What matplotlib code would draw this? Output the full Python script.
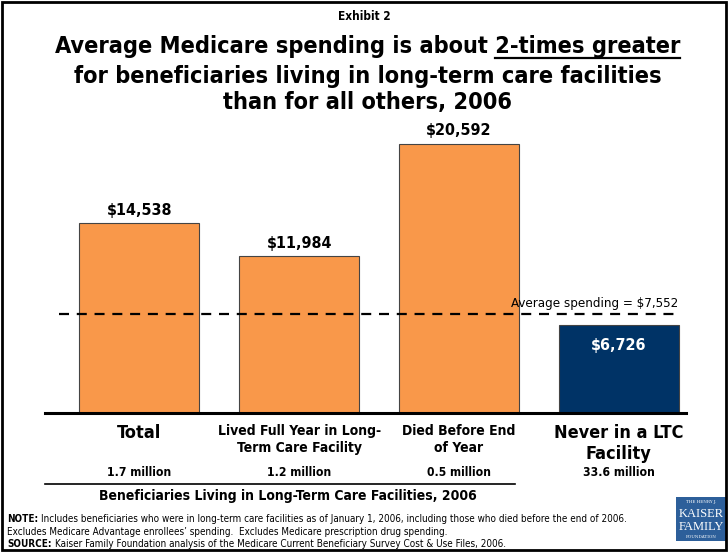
import matplotlib
matplotlib.use("Agg")
import matplotlib.pyplot as plt
from matplotlib.patches import Rectangle
from matplotlib.lines import Line2D

categories = ["Total", "Lived Full Year in Long-\nTerm Care Facility", "Died Before End\nof Year", "Never in a LTC\nFacility"]
values = [14538, 11984, 20592, 6726]
value_labels = ["$14,538", "$11,984", "$20,592", "$6,726"]
counts = ["1.7 million", "1.2 million", "0.5 million", "33.6 million"]
average = 7552
avg_label = "Average spending = $7,552"

ORANGE = "#F9984A"
NAVY = "#003366"
colors = [ORANGE, ORANGE, ORANGE, NAVY]
FONT = "DejaVu Sans"
ST = "condensed"

W, H = 728, 554
fig = plt.figure(figsize=(W / 100, H / 100), dpi=100)

def fx(px):
    return px / W

def fy(py):
    return 1 - py / H

def T(xx, yy, s, **kw):
    kw.setdefault("family", FONT)
    kw.setdefault("fontstretch", ST)
    return fig.text(xx, yy, s, **kw)

ax = fig.add_axes([fx(45), fy(413), fx(686) - fx(45), (413 - 99) / H])
x = list(range(len(values)))
ax.bar(x, values, width=0.75, color=colors, edgecolor="#444444", linewidth=0.8, zorder=2)
ax.set_xlim(-0.59, 3.42)
ax.set_ylim(0, 24000)
for s in ["top", "right", "left"]:
    ax.spines[s].set_visible(False)
ax.spines["bottom"].set_linewidth(2.2)
ax.set_yticks([])
ax.set_xticks([])

for i, (v, lab) in enumerate(zip(values, value_labels)):
    if i == 3:
        ax.text(i, v - 1000, lab, ha="center", va="top", color="white",
                fontsize=11.5, fontweight="bold", family=FONT, fontstretch=ST)
    else:
        ax.text(i, v + 400, lab, ha="center", va="bottom", color="black",
                fontsize=11.5, fontweight="bold", family=FONT, fontstretch=ST)

ax.plot([-0.5, 3.37], [average, average], ls=(0, (4.5, 3.5)), color="black", lw=1.6, zorder=3)
ax.text(3.37, average + 300, avg_label, ha="right", va="bottom", fontsize=9.5,
        family=FONT, fontstretch=ST)

trans = ax.get_xaxis_transform()
for i, cat in enumerate(categories):
    big = i in (0, 3)
    ax.text(i, -0.035, cat, transform=trans, ha="center", va="top",
            fontsize=13 if big else 10, fontweight="bold", family=FONT,
            fontstretch=ST, linespacing=1.3 if not big else 1.25)
    ax.text(i, -0.19, counts[i], transform=trans, ha="center", va="center",
            fontsize=8.7, fontweight="bold", family=FONT, fontstretch=ST)

fig.add_artist(Line2D([fx(45), fx(515)], [fy(484), fy(484)], color="black", lw=1.2))
T(fx(288), fy(496), "Beneficiaries Living in Long-Term Care Facilities, 2006",
  ha="center", va="center", fontsize=10, fontweight="bold")

TS = 16.8
T(0.5, fy(17), "Exhibit 2", ha="center", va="center", fontsize=8.5, fontweight="bold")
t1 = T(0.505, fy(47), "Average Medicare spending is about 2-times greater",
       ha="center", va="center", fontsize=TS, fontweight="bold")
T(0.505, fy(77), "for beneficiaries living in long-term care facilities",
  ha="center", va="center", fontsize=TS, fontweight="bold")
T(0.505, fy(103), "than for all others, 2006",
  ha="center", va="center", fontsize=TS, fontweight="bold")

fig.canvas.draw()
r = fig.canvas.get_renderer()
bb = t1.get_window_extent(r)
tmp2 = T(0, 0, "2-times greater", fontsize=TS, fontweight="bold")
w_u = tmp2.get_window_extent(r).width
tmp2.remove()
x0 = bb.x1 - w_u
uy = (H - 58) / H
fig.add_artist(Line2D([x0 / W, bb.x1 / W], [uy, uy], color="black", lw=1.6))

NS = 7.15
def note(py, bold, rest):
    b = T(fx(7), fy(py), bold, ha="left", va="center", fontsize=NS, fontweight="bold")
    wb = b.get_window_extent(r).width
    T(fx(7) + (wb + 3) / W, fy(py), rest, ha="left", va="center", fontsize=NS)

note(519, "NOTE:", "Includes beneficiaries who were in long-term care facilities as of January 1, 2006, including those who died before the end of 2006.")
T(fx(7), fy(532), "Excludes Medicare Advantage enrollees\u2019 spending.  Excludes Medicare prescription drug spending.",
  ha="left", va="center", fontsize=NS)
note(544, "SOURCE:", "Kaiser Family Foundation analysis of the Medicare Current Beneficiary Survey Cost & Use Files, 2006.")

fig.add_artist(Rectangle((fx(676), fy(541)), fx(727) - fx(676), (541 - 497) / H,
                         facecolor="#2D5F9A", edgecolor="none"))
fig.text(fx(701), fy(502), "THE HENRY J.", ha="center", va="center", fontsize=3, color="white", family="DejaVu Serif")
fig.text(fx(701), fy(514), "KAISER", ha="center", va="center", fontsize=9, color="white", family="Liberation Serif")
fig.text(fx(701), fy(527), "FAMILY", ha="center", va="center", fontsize=9, color="white", family="Liberation Serif")
fig.text(fx(701), fy(537), "FOUNDATION", ha="center", va="center", fontsize=3, color="white", family="DejaVu Serif")

fig.add_artist(Rectangle((fx(2), fy(550)), fx(726) - fx(2), (550 - 2) / H,
                         facecolor="none", edgecolor="black", lw=2))

fig.savefig("out.png", dpi=100)
